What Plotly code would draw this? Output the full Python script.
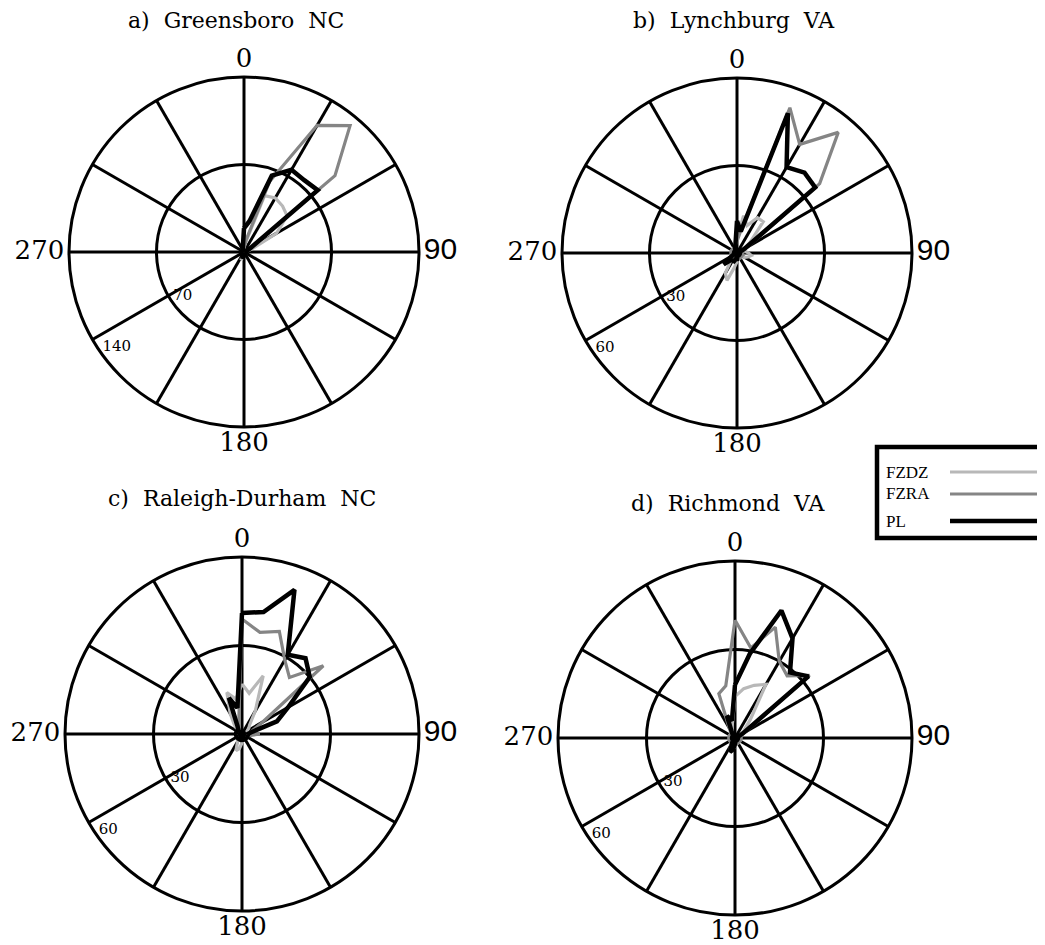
import plotly.graph_objects as go

W, H = 1045, 945

# ---- data (10-degree direction bins, 0..350) ----
THETA = list(range(0, 360, 10))

a_fzdz = [4, 8, 48, 50, 48, 45, 30, 6, 2, 2, 2, 2, 2, 2, 2, 2, 2, 2, 3, 4, 7, 3, 2, 2, 2, 2, 2, 2, 2, 2, 2, 2, 2, 2, 2, 3]
a_fzra = [3, 10, 60, 117, 132, 95, 5, 2, 2, 2, 2, 2, 2, 2, 2, 2, 2, 2, 2, 3, 3, 2, 2, 2, 2, 2, 2, 2, 2, 2, 2, 2, 2, 2, 2, 3]
a_pl = [19, 25, 65, 76, 75, 77, 5, 2, 2, 2, 2, 2, 2, 2, 2, 2, 2, 2, 3, 4, 4, 3, 2, 2, 2, 2, 2, 2, 2, 2, 2, 2, 2, 2, 3, 5]

b_fzdz = [5, 13, 10, 14, 14, 6, 3, 2, 3, 4, 5, 4, 3, 2, 2, 2, 2, 2, 3, 5, 10, 8, 3, 2, 2, 2, 2, 2, 2, 2, 2, 2, 2, 2, 2, 3]
b_fzra = [4, 8, 53, 43, 54, 37, 4, 2, 2, 2, 2, 2, 2, 2, 2, 2, 2, 2, 2, 2, 3, 3, 2, 2, 2, 2, 2, 2, 2, 2, 2, 2, 2, 2, 2, 3]
b_pl = [11, 7.5, 51, 34, 36, 35, 3, 1, 1, 1, 1, 1, 1, 1, 1, 1, 1, 1, 2, 2, 3, 3, 3, 6, 2, 1, 1, 1, 1, 1, 1, 1, 1, 1, 2, 3]

c_fzdz = [17, 14, 21, 9, 4, 3, 2, 2, 2, 2, 2, 2, 2, 2, 2, 2, 2, 2, 3, 5, 6, 3, 2, 2, 2, 2, 2, 2, 2, 2, 2, 2, 4, 8, 15, 12]
c_fzra = [39, 35, 37, 29, 25, 36, 8, 4, 3, 6, 3, 2, 2, 2, 2, 2, 2, 2, 2, 2, 2, 2, 2, 2, 2, 2, 2, 2, 2, 2, 2, 2, 2, 2, 3, 6]
c_pl = [41, 42, 52, 31, 33.5, 30, 18, 12.6, 3, 2, 2, 2, 2, 2, 2, 2, 2, 2, 2, 2, 2, 2, 2, 2, 2, 2, 2, 2, 2, 2, 2, 2, 2, 3, 13, 9]

d_fzdz = [14, 17, 19, 21, 8, 4, 2, 2, 2, 2, 2, 2, 2, 2, 2, 2, 2, 2, 3, 4, 5, 3, 2, 2, 2, 2, 2, 2, 2, 2, 2, 2, 2, 2, 3, 5]
d_fzra = [40, 31, 40, 30, 27.5, 33, 4, 2, 2, 2, 2, 2, 2, 2, 2, 2, 2, 2, 2, 2, 2, 2, 2, 2, 2, 2, 2, 2, 2, 2, 2, 2, 2, 4, 16, 18]
d_pl = [18, 29, 46, 39, 29, 32.5, 3, 1, 1, 1, 1, 1, 1, 1, 1, 1, 1, 1, 2, 4, 5, 2, 1, 1, 1, 1, 1, 1, 1, 1, 1, 1, 1, 2, 8, 6]

TITLES = ["a) Greensboro NC", "b) Lynchburg VA", "c) Raleigh-Durham NC", "d) Richmond VA"]
RTICKS = [[70, 140], [30, 60], [30, 60], [30, 60]]
SERIES_NAMES = ["FZDZ", "FZRA", "PL"]
ANG_GRID = list(range(0, 360, 30))
ANG_LABEL_THETA = [0, 90, 180, 270]
ANG_LABEL_TEXT = ["0", "90", "180", "270"]

panels = [(a_fzdz, a_fzra, a_pl), (b_fzdz, b_fzra, b_pl),
          (c_fzdz, c_fzra, c_pl), (d_fzdz, d_fzra, d_pl)]

# ---- styling / layout ----
COLORS = {"FZDZ": "#b8b8b8", "FZRA": "#858585", "PL": "#000000"}
WIDTHS = {"FZDZ": 3.2, "FZRA": 3.2, "PL": 4.5}
SERIF = "DejaVu Serif"
OFF = 8  # page body margin
LABEL_POS = ["top center", "middle right", "bottom center", "middle left"]
LABEL_STANDOFF = [4, 6, 6, 6]  # invisible marker sizes that set the gap to the rim


def label_html(t):
    if t == "90":
        return "<span style='font-family:Liberation Sans;font-size:30px'>90</span>"
    return t


# pixel centres and radii of the four dials
CENTERS = [(244, 252, 175), (737, 253, 175), (242, 734, 177), (735, 738, 177)]
TITLE_POS = [(236, 21), (734, 21), (242, 498), (728, 503)]


def px(x):
    return (x - OFF) / W


def py(y):
    return 1 - (y - OFF) / H


fig = go.Figure()
layout_polars = {}
for i, (series, ticks) in enumerate(zip(panels, RTICKS)):
    pname = "polar" if i == 0 else f"polar{i+1}"
    sub = pname
    cx, cy, R = CENTERS[i]
    for name, vals in zip(SERIES_NAMES, series):
        fig.add_trace(go.Scatterpolar(
            r=list(vals) + [vals[0]], theta=THETA + [THETA[0]],
            mode="lines", name=name, showlegend=False, subplot=sub,
            line=dict(color=COLORS[name], width=WIDTHS[name]),
            hoverinfo="skip"))
    # radial tick labels, inside the rings
    fig.add_trace(go.Scatterpolar(
        r=ticks, theta=[234] * len(ticks), mode="text",
        text=[str(t) for t in ticks], textposition="top right",
        textfont=dict(family=SERIF, size=15, color="black"),
        showlegend=False, subplot=sub, hoverinfo="skip"))
    # compass labels just outside the rim (invisible markers give the standoff)
    fig.add_trace(go.Scatterpolar(
        r=[ticks[-1]] * len(ANG_LABEL_THETA), theta=ANG_LABEL_THETA, mode="markers+text",
        text=[label_html(t) for t in ANG_LABEL_TEXT], textposition=LABEL_POS,
        textfont=dict(family=SERIF, size=26, color="black"), cliponaxis=False,
        marker=dict(size=LABEL_STANDOFF, opacity=0),
        showlegend=False, subplot=sub, hoverinfo="skip"))
    layout_polars[pname] = dict(
        domain=dict(x=[px(cx - R), px(cx + R)], y=[py(cy + R), py(cy - R)]),
        bgcolor="white",
        radialaxis=dict(range=[0, ticks[-1]], tickvals=ticks, showticklabels=False,
                        ticks="", showline=False, gridcolor="black", gridwidth=2.5),
        angularaxis=dict(rotation=90, direction="clockwise", tickvals=ANG_GRID,
                         showticklabels=False, ticks="", showline=True,
                         linecolor="black", linewidth=3, gridcolor="black", gridwidth=2.5),
    )

annotations = []
for (tx, ty), t in zip(TITLE_POS, TITLES):
    annotations.append(dict(x=px(tx), y=py(ty), xref="paper", yref="paper",
                            text=t.replace(" ", "&nbsp;&nbsp;"), showarrow=False,
                            font=dict(family=SERIF, size=22, color="black"),
                            xanchor="center", yanchor="middle"))

# legend box (drawn manually so the samples sit right of the labels)
shapes = [dict(type="rect", xref="paper", yref="paper", x0=px(877), x1=px(1070),
               y0=py(538), y1=py(447), line=dict(color="black", width=4.5),
               fillcolor="white", layer="above")]
leg_y = [472, 494, 521]
for name, y in zip(SERIES_NAMES, leg_y):
    annotations.append(dict(x=px(884), y=py(y), xref="paper", yref="paper", text=name,
                            showarrow=False, xanchor="left", yanchor="middle",
                            font=dict(family="Liberation Serif", size=17, color="black")))
    shapes.append(dict(type="line", xref="paper", yref="paper", x0=px(950), x1=px(1060),
                       y0=py(y), y1=py(y), line=dict(color=COLORS[name], width=WIDTHS[name]),
                       layer="above"))

fig.update_layout(width=W, height=H, margin=dict(l=0, r=0, t=0, b=0),
                  paper_bgcolor="white", plot_bgcolor="white",
                  annotations=annotations, shapes=shapes, showlegend=False,
                  **layout_polars)

fig.write_html("out.html")
